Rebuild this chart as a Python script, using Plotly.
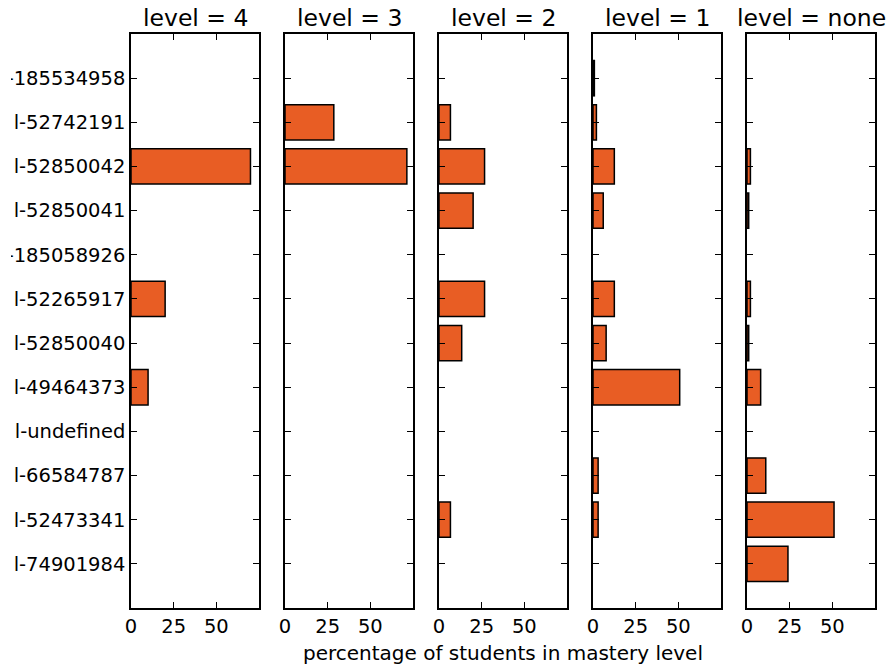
import plotly.graph_objects as go
from plotly.subplots import make_subplots

# Skills, listed top to bottom
skills = [
    "l-185534958", "l-52742191", "l-52850042", "l-52850041", "l-185058926",
    "l-52265917", "l-52850040", "l-49464373", "l-undefined", "l-66584787",
    "l-52473341", "l-74901984",
]

levels = ["4", "3", "2", "1", "none"]

# Percentage of students in each mastery level, per skill
pct_level_4 = [0, 0, 70, 0, 0, 20, 0, 10, 0, 0, 0, 0]
pct_level_3 = [0, 28.6, 71.4, 0, 0, 0, 0, 0, 0, 0, 0, 0]
pct_level_2 = [0, 6.7, 26.7, 20, 0, 26.7, 13.3, 0, 0, 0, 6.7, 0]
pct_level_1 = [0.8, 2, 12.5, 6, 0, 12.5, 7.7, 50.8, 0, 3, 3, 0]
pct_level_none = [0, 0, 2, 1, 0, 2, 1, 8, 0, 11, 51, 24]

series = [pct_level_4, pct_level_3, pct_level_2, pct_level_1, pct_level_none]

x_ticks = [0, 25, 50]
bar_color = "#E85D24"
font_family = "DejaVu Sans"

W, H = 887, 669
panel_px = [(131, 259), (285, 413), (439, 567), (593, 721), (747, 875)]
top_px, bottom_px = 34, 608

fig = make_subplots(rows=1, cols=len(levels), shared_yaxes=False)

ypos = list(range(len(skills)))
for i, (lvl, vals) in enumerate(zip(levels, series)):
    # empty cells get no bar at all
    xs = [v if v > 0 else None for v in vals]
    fig.add_trace(
        go.Bar(
            x=xs, y=ypos, orientation="h", width=0.8,
            marker=dict(color=bar_color, line=dict(color="black", width=1.5)),
            showlegend=False, hoverinfo="x+y",
        ),
        row=1, col=i + 1,
    )

axis_common = dict(
    showline=True, linecolor="black", linewidth=1.5, mirror="ticks",
    ticks="inside", ticklen=6, tickwidth=1, tickcolor="black",
    showgrid=False, zeroline=False, automargin=False,
    tickfont=dict(family=font_family, size=19.5, color="black"),
)

annotations = []
for i, lvl in enumerate(levels):
    x0, x1 = panel_px[i]
    xa = "xaxis" if i == 0 else f"xaxis{i + 1}"
    ya = "yaxis" if i == 0 else f"yaxis{i + 1}"
    fig.layout[xa].update(
        domain=[x0 / W, x1 / W], range=[0, 75],
        tickvals=x_ticks, ticktext=[str(t) for t in x_ticks],
        **axis_common,
    )
    fig.layout[ya].update(
        domain=[1 - bottom_px / H, 1 - top_px / H], range=[12, -1],
        tickvals=ypos, ticktext=skills, showticklabels=(i == 0),
        **axis_common,
    )
    annotations.append(dict(
        text=f"level = {lvl}", x=(x0 + x1) / 2 / W, y=1 - 18 / H,
        xref="paper", yref="paper", showarrow=False,
        xanchor="center", yanchor="middle",
        font=dict(family=font_family, size=23.5, color="black"),
    ))

annotations.append(dict(
    text="percentage of students in mastery level",
    x=(131 + 875) / 2 / W, y=1 - 653 / H, xref="paper", yref="paper",
    showarrow=False, xanchor="center", yanchor="middle",
    font=dict(family=font_family, size=20, color="black"),
))

# the figure is cropped at its left edge, cutting into the longest labels
crop_shape = dict(
    type="rect", xref="paper", yref="paper", x0=0, x1=11 / W, y0=0, y1=1,
    fillcolor="white", line=dict(width=0), layer="above",
)

fig.update_layout(
    width=W, height=H, margin=dict(l=0, r=0, t=0, b=0),
    paper_bgcolor="white", plot_bgcolor="white",
    annotations=annotations, shapes=[crop_shape], bargap=0.2,
    font=dict(family=font_family, color="black"),
)

fig.write_html("out.html")
